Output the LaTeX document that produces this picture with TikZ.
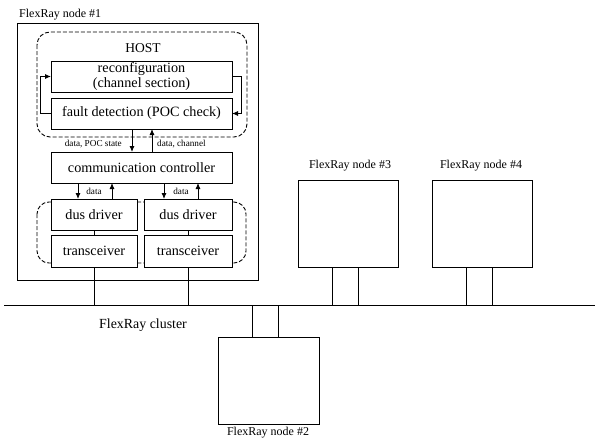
\documentclass[tikz,border=0pt]{standalone}
\usepackage{fontspec}
\setmainfont{Liberation Serif}
\usetikzlibrary{arrows.meta,calc}
\begin{document}
\begin{tikzpicture}[x=1pt,y=-1pt,
  box/.style={draw,line width=1pt,fill=white,inner sep=0pt,outer sep=0pt,align=center,font=\fontsize{14.2}{15}\selectfont},
  blank/.style={draw,line width=1pt,fill=white,inner sep=0pt,outer sep=0pt},
  grp/.style={draw,line width=0.9pt,dash pattern=on 4pt off 2pt,rounded corners=13pt},
  lbl/.style={inner sep=0pt,font=\fontsize{12}{13}\selectfont},
  small/.style={inner sep=0pt,font=\fontsize{9.2}{10}\selectfont},
  arr/.style={line width=0.9pt,-{Latex[length=6pt,width=5pt]}},
  wire/.style={line width=0.8pt}]
\useasboundingbox (0,0) rectangle (595,439);
\begin{scope}
\clip (0,0) rectangle (595,439);
% node 1
\node[blank,minimum width=241pt,minimum height=257pt] (n1) at (137.5,151.5) {};
\node[lbl,anchor=west] (n1l) at (19,15) {FlexRay node \#1};
\draw[grp] (37,32) rectangle (247,137);
\node[inner sep=0pt,font=\fontsize{13.5}{14}\selectfont] (host) at (143,48) {HOST};
\node[box,minimum width=181pt,minimum height=31pt] (reconf) at (141.5,76.5) {reconfiguration\\(channel section)};
\node[box,minimum width=181pt,minimum height=31pt] (fault) at (141.5,113.5) {fault detection (POC check)};
\node[box,minimum width=181pt,minimum height=31pt] (comm) at (141.5,167.5) {communication controller};
\draw[grp,rounded corners=12pt] (37,202) rectangle (246,263);
\node[box,minimum width=86pt,minimum height=31pt] (dus1) at (94,214.5) {dus driver};
\node[box,minimum width=88pt,minimum height=31pt] (dus2) at (188,214.5) {dus driver};
\node[box,minimum width=86pt,minimum height=32pt] (trx1) at (94,251) {transceiver};
\node[box,minimum width=88pt,minimum height=32pt] (trx2) at (188,251) {transceiver};
% feedback arrows
\draw[arr] (fault.west) -- ++(-11,0) |- (reconf.west);
\draw[arr] (reconf.east) -- ++(9,0) |- (fault.east);
% host <-> comm
\coordinate (dp) at (132,0);
\coordinate (up) at (152,0);
\draw[arr] (fault.south -| dp) -- (comm.north -| dp);
\draw[arr] (comm.north -| up) -- (fault.south -| up);
\node[small,anchor=east] (l1) at (122,144) {data, POC state};
\node[small,anchor=west] (l2) at (157,144) {data, channel};
% comm <-> dus
\coordinate (a1) at (78,0);
\coordinate (b1) at (112,0);
\coordinate (a2) at (164,0);
\coordinate (b2) at (198,0);
\draw[arr] (comm.south -| a1) -- (dus1.north -| a1);
\draw[arr] (dus1.north -| b1) -- (comm.south -| b1);
\draw[arr] (comm.south -| a2) -- (dus2.north -| a2);
\draw[arr] (dus2.north -| b2) -- (comm.south -| b2);
\node[small] (d1) at (94,191) {data};
\node[small] (d2) at (181,191) {data};
% dus - trx
\draw[wire] (dus1.south) -- (trx1.north);
\draw[wire] (dus2.south) -- (trx2.north);
% bus
\coordinate (busL) at (4,305);
\coordinate (busR) at (595,305);
\draw[line width=1pt] (busL) -- (busR);
\node[inner sep=0pt,font=\fontsize{13.9}{15}\selectfont] (cl) at (143,325) {FlexRay cluster};
\draw[wire] (trx1.south) -- (trx1.south |- busL);
\draw[wire] (trx2.south) -- (trx2.south |- busL);
% node 3
\node[blank,minimum width=100pt,minimum height=87pt] (n3) at (348,223.5) {};
\node[lbl] (n3l) at (350,166) {FlexRay node \#3};
\coordinate (c31) at (332,0);
\coordinate (c32) at (358,0);
\draw[wire] (n3.south -| c31) -- (busL -| c31);
\draw[wire] (n3.south -| c32) -- (busL -| c32);
% node 4
\node[blank,minimum width=100pt,minimum height=87pt] (n4) at (482,223.5) {};
\node[lbl] (n4l) at (481,166) {FlexRay node \#4};
\coordinate (c41) at (466,0);
\coordinate (c42) at (492,0);
\draw[wire] (n4.south -| c41) -- (busL -| c41);
\draw[wire] (n4.south -| c42) -- (busL -| c42);
% node 2
\node[blank,minimum width=101pt,minimum height=87pt] (n2) at (268.5,380.5) {};
\node[lbl,anchor=base] (n2l) at (268,435.5) {FlexRay node \#2};
\coordinate (c21) at (252,0);
\coordinate (c22) at (278,0);
\draw[wire] (busL -| c21) -- (n2.north -| c21);
\draw[wire] (busL -| c22) -- (n2.north -| c22);
\end{scope}
\end{tikzpicture}
\end{document}
